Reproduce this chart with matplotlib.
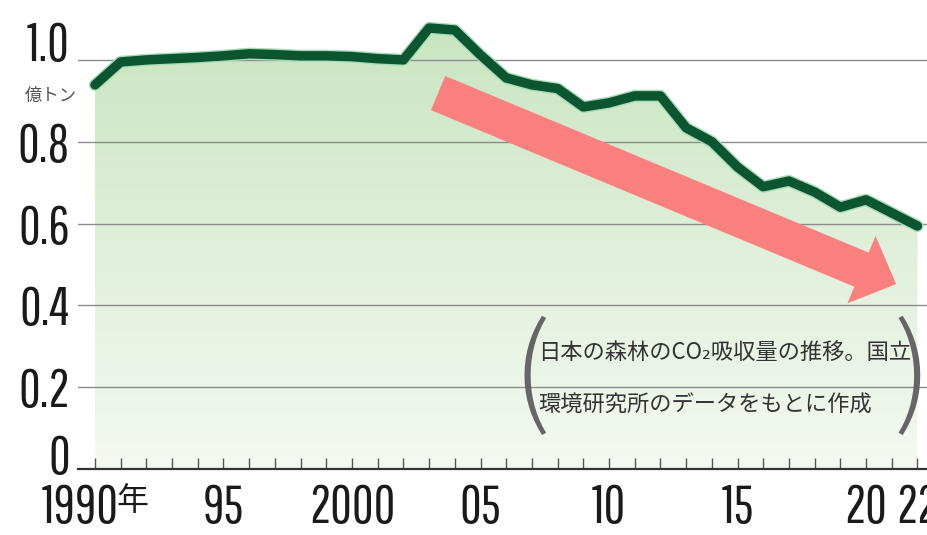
import numpy as np
import matplotlib
matplotlib.use("Agg")
import matplotlib.pyplot as plt
from matplotlib.transforms import ScaledTranslation, blended_transform_factory
from matplotlib.colors import LinearSegmentedColormap
import matplotlib.patheffects as pe

years = list(range(1990, 2023))
absorption = [0.939, 0.995, 1.000, 1.003, 1.006, 1.010, 1.015, 1.013, 1.010, 1.010,
              1.008, 1.003, 1.000, 1.078, 1.073, 1.012, 0.956, 0.939, 0.930, 0.885,
              0.895, 0.912, 0.912, 0.834, 0.800, 0.738, 0.690, 0.704, 0.677, 0.640,
              0.658, 0.626, 0.594]
y_ticks = [0, 0.2, 0.4, 0.6, 0.8, 1.0]
y_tick_labels = ["0", "0.2", "0.4", "0.6", "0.8", "1.0"]
x_ticks = [1990, 1995, 2000, 2005, 2010, 2015, 2020, 2022]
x_tick_labels = ["1990年", "95", "2000", "05", "10", "15", "20", "22"]
unit_label = "億トン"
note_lines = ["日本の森林のCO₂吸収量の推移。国立", "環境研究所のデータをもとに作成"]
trend_start = (2003.35, 0.919)
trend_end = (2021.17, 0.452)

NUM_FAMILY = ['Pathway Gothic One', 'Liberation Sans Narrow', 'Noto Sans CJK JP', 'DejaVu Sans']
CJK_FAMILY = ['Noto Sans CJK JP', 'DejaVu Sans']
PAREN_FAMILY = ['Noto Sans CJK JP', 'DejaVu Sans']
plt.rcParams['font.family'] = NUM_FAMILY

fig = plt.figure(figsize=(9.28, 5.35), dpi=100)
ax = fig.add_axes([78/928, 66/535, 850/928, 450/535])
ax.set_xlim(1989.34, 2022.41)
ax.set_ylim(0, 1.1)

for s in ("top", "right", "left"):
    ax.spines[s].set_visible(False)
ax.spines["bottom"].set_color("#333333")
ax.spines["bottom"].set_linewidth(1.6)

# gradient fill under the line
fill = ax.fill_between(years, absorption, 0, color="none", lw=0)
cmap = LinearSegmentedColormap.from_list("g", ["#f4f9f2", "#e0f0da", "#c9e5c0"])
grad = np.linspace(1, 0, 256).reshape(-1, 1)
img = ax.imshow(grad, extent=[1990, 2022, 0, 1.08], aspect="auto", cmap=cmap,
                origin="upper", zorder=1, interpolation="bicubic")
img.set_clip_path(fill.get_paths()[0], transform=ax.transData)

for v in y_ticks[1:]:
    ax.axhline(v, color="#8c8c8c", lw=1.0, zorder=2)

ax.plot(years, absorption, color="#0b5530", lw=6.8, solid_capstyle="round",
        solid_joinstyle="round", zorder=4,
        path_effects=[pe.Stroke(linewidth=8.8, foreground="#a8dcb8"), pe.Normal()])

ax.annotate("", xy=trend_end, xytext=trend_start,
            arrowprops=dict(arrowstyle="simple,head_length=0.73,head_width=1.42,tail_width=0.72",
                            mutation_scale=37, color="#fa8080", lw=0, shrinkA=0, shrinkB=0),
            zorder=5)

# y axis labels
ax.set_yticks(y_ticks)
ax.set_yticklabels(y_tick_labels, fontsize=38, color="#1a1a1a")
ax.tick_params(axis="y", length=0, pad=6)
labels = ax.get_yticklabels()
labels[-1].set_transform(labels[-1].get_transform() + ScaledTranslation(0, 0.19, fig.dpi_scale_trans))
labels[0].set_transform(labels[0].get_transform() + ScaledTranslation(0, 0.15, fig.dpi_scale_trans))

# x axis labels ("年" of the first label is drawn smaller, as in the reference)
first_num = x_tick_labels[0].rstrip("年")
first_unit = x_tick_labels[0][len(first_num):]
ax.set_xticks(x_ticks)
ax.set_xticklabels([first_num] + x_tick_labels[1:], fontsize=38, color="#1a1a1a")
ax.set_xticks(years, minor=True)
ax.tick_params(axis="x", which="both", direction="in", length=8, width=1, color="#555555", pad=10)
xl = ax.get_xticklabels()
xl[0].set_transform(xl[0].get_transform() + ScaledTranslation(-15/100, 0, fig.dpi_scale_trans))
bt = blended_transform_factory(ax.transData, ax.transAxes)
ax.text(x_ticks[0] + 0.85, 0, first_unit, fontsize=23, color="#1a1a1a", family=CJK_FAMILY,
        ha="left", va="top",
        transform=bt + ScaledTranslation(0, -16/100, fig.dpi_scale_trans))

ax.text(-0.063, 0.83, unit_label, transform=ax.transAxes, fontsize=12.5, color="#555555",
        family=CJK_FAMILY, ha="left", va="center")

ax.text(0.541, 0.26, note_lines[0], transform=ax.transAxes, fontsize=16, color="#333333",
        family=CJK_FAMILY, ha="left", va="center", zorder=6)
ax.text(0.541, 0.142, note_lines[1], transform=ax.transAxes, fontsize=16, color="#333333",
        family=CJK_FAMILY, ha="left", va="center", zorder=6)
ax.text(0.533, 0.2, "(", transform=ax.transAxes, fontsize=86, color="#666666",
        family=PAREN_FAMILY, fontweight="light", ha="center", va="center", zorder=6)
ax.text(0.982, 0.2, ")", transform=ax.transAxes, fontsize=86, color="#666666",
        family=PAREN_FAMILY, fontweight="light", ha="center", va="center", zorder=6)

fig.savefig("out.png", dpi=100, facecolor="white")
